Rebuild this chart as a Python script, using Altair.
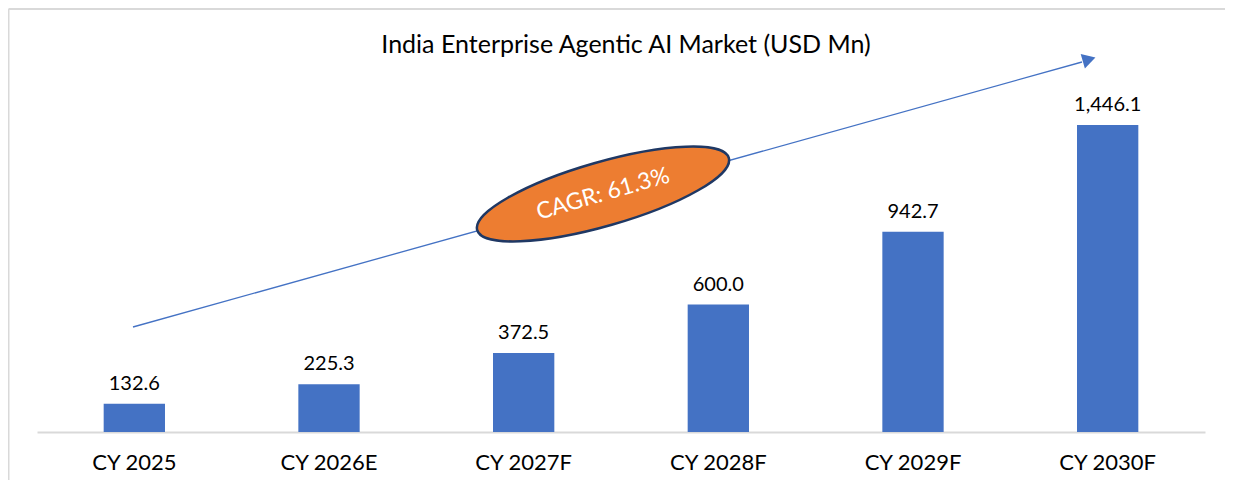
import altair as alt
import pandas as pd

categories = ["CY 2025", "CY 2026E", "CY 2027F", "CY 2028F", "CY 2029F", "CY 2030F"]
values = [132.6, 225.3, 372.5, 600.0, 942.7, 1446.1]
value_labels = ["132.6", "225.3", "372.5", "600.0", "942.7", "1,446.1"]
title_text = "India Enterprise Agentic AI Market (USD Mn)"
cagr_text = "CAGR: 61.3%"

FONT = "Lato"
BAR = "#4472c4"

df = pd.DataFrame({"cat": categories, "val": values, "lab": value_labels})

x_enc = alt.X("cat:N", sort=categories, title=None,
              scale=alt.Scale(paddingInner=0.685, paddingOuter=0.3425),
              axis=alt.Axis(labelAngle=0, ticks=False, tickSize=0, labelPadding=20,
                            labelFont=FONT, labelFontSize=22, labelColor="#000000",
                            domainColor="#d9d9d9", domainWidth=2, grid=False))
y_enc = alt.Y("val:Q", title=None, scale=alt.Scale(domain=[0, 1997.2], nice=False, zero=True),
              axis=None)

base = alt.Chart(df)
bars = base.mark_bar(color=BAR).encode(x=x_enc, y=y_enc)
labels = base.mark_text(font=FONT, fontSize=20, color="#000000", dy=-14,
                        baseline="alphabetic").encode(
    x=alt.X("cat:N", sort=categories), y="val:Q", text="lab:N")

one = alt.Data(values=[{}])

arrow_line = alt.Chart(one).mark_rule(color=BAR, strokeWidth=1.3).encode(
    x=alt.value(96), y=alt.value(319), x2=alt.value(1045), y2=alt.value(54))
arrow_head = alt.Chart(one).mark_point(shape="triangle", filled=True, color=BAR, opacity=1,
                                       size=230, angle=74).encode(
    x=alt.value(1050), y=alt.value(52))

ellipse_path = "M -1 0 A 1 0.245 0 1 0 1 0 A 1 0.245 0 1 0 -1 0 Z"
ellipse = alt.Chart(one).mark_point(shape=ellipse_path, filled=True, fill="#ed7d31",
                                    stroke="#1f3864", strokeWidth=2.5, opacity=1,
                                    fillOpacity=1, size=68500, angle=344).encode(
    x=alt.value(566), y=alt.value(186))
cagr = alt.Chart(one).mark_text(font=FONT, fontSize=23, color="#ffffff", angle=344,
                                align="center", baseline="middle").encode(
    x=alt.value(566), y=alt.value(186), text=alt.value(cagr_text))

title = alt.Chart(one).mark_text(font=FONT, fontSize=25, color="#000000",
                                 align="center", baseline="middle").encode(
    x=alt.value(589), y=alt.value(37), text=alt.value(title_text))

border_top = alt.Chart(one).mark_rule(color="#d9d9d9", strokeWidth=2).encode(
    x=alt.value(-28.5), x2=alt.value(1200), y=alt.value(1))
border_left = alt.Chart(one).mark_rule(color="#d9d9d9", strokeWidth=2).encode(
    x=alt.value(-28.5), y=alt.value(1), y2=alt.value(472))

chart = alt.layer(bars, labels, border_top, border_left, arrow_line, arrow_head,
                  ellipse, cagr, title).properties(
    width=1168, height=424,
    autosize=alt.AutoSizeParams(type="none"),
    padding={"left": 29, "top": 0, "right": 20, "bottom": 48},
    background="#ffffff",
).configure_view(stroke=None)

chart.save("out.html", embed_options={"renderer": "svg", "actions": False})
